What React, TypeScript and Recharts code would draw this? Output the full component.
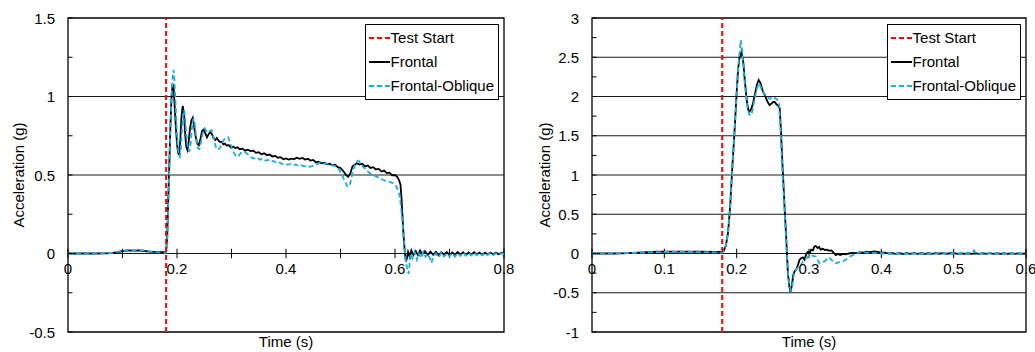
import React from 'react';
import { LineChart, Line, XAxis, YAxis, ReferenceLine, ReferenceArea, Legend } from 'recharts';

// time (s), acceleration (g)
const TEST_START = 0.18;

const leftFrontal: [number, number][] = [
  [0, 0], [0.05, 0], [0.08, 0.002], [0.09, 0.008], [0.1, 0.015], [0.11, 0.02], [0.12, 0.018], [0.13, 0.02],
  [0.14, 0.016], [0.15, 0.012], [0.16, 0.01], [0.17, 0.008], [0.18, 0.008],
  [0.182, 0.1], [0.184, 0.35], [0.186, 0.58], [0.188, 0.82], [0.19, 1.0], [0.192, 1.08], [0.194, 1.05],
  [0.196, 0.92], [0.198, 0.8], [0.2, 0.7], [0.202, 0.64], [0.204, 0.63], [0.206, 0.72], [0.208, 0.86],
  [0.2105, 0.94], [0.213, 0.88], [0.215, 0.76], [0.217, 0.68], [0.219, 0.66], [0.221, 0.7], [0.224, 0.8],
  [0.2265, 0.85], [0.229, 0.865], [0.231, 0.82], [0.234, 0.75], [0.237, 0.7], [0.24, 0.69], [0.243, 0.73],
  [0.246, 0.78], [0.249, 0.79], [0.252, 0.765], [0.255, 0.74], [0.258, 0.76], [0.261, 0.775], [0.264, 0.76],
  [0.267, 0.735], [0.27, 0.722], [0.273, 0.735], [0.276, 0.72], [0.279, 0.71], [0.282, 0.712], [0.285, 0.695],
  [0.288, 0.7], [0.291, 0.688], [0.295, 0.69], [0.299, 0.675], [0.303, 0.682], [0.307, 0.672], [0.311, 0.676],
  [0.315, 0.664], [0.32, 0.668], [0.325, 0.655], [0.33, 0.661], [0.335, 0.652], [0.34, 0.655], [0.345, 0.641],
  [0.35, 0.645], [0.355, 0.632], [0.36, 0.638], [0.365, 0.626], [0.37, 0.63], [0.375, 0.618], [0.38, 0.622],
  [0.385, 0.61], [0.39, 0.614], [0.395, 0.6], [0.4, 0.606], [0.405, 0.598], [0.41, 0.604], [0.415, 0.601],
  [0.42, 0.61], [0.425, 0.603], [0.43, 0.609], [0.435, 0.598], [0.44, 0.603], [0.445, 0.592], [0.45, 0.596],
  [0.455, 0.58], [0.46, 0.584], [0.465, 0.574], [0.47, 0.578], [0.475, 0.568], [0.48, 0.572], [0.485, 0.562],
  [0.49, 0.566], [0.495, 0.55], [0.5, 0.545], [0.505, 0.525], [0.51, 0.5], [0.514, 0.488], [0.518, 0.51],
  [0.522, 0.555], [0.526, 0.565], [0.53, 0.575], [0.535, 0.566], [0.54, 0.572], [0.545, 0.555], [0.55, 0.56],
  [0.555, 0.545], [0.56, 0.55], [0.565, 0.535], [0.57, 0.54], [0.575, 0.522], [0.58, 0.528], [0.585, 0.512],
  [0.59, 0.515], [0.595, 0.498], [0.6, 0.5], [0.604, 0.488], [0.607, 0.47], [0.61, 0.44], [0.612, 0.35],
  [0.614, 0.22], [0.616, 0.1], [0.618, 0.01], [0.62, -0.05], [0.622, -0.03], [0.624, 0.01], [0.627, -0.02],
  [0.63, 0.02], [0.634, -0.01], [0.638, 0.015], [0.642, -0.01], [0.646, 0.02], [0.65, -0.005], [0.655, 0.015],
  [0.66, -0.01], [0.665, 0.012], [0.67, -0.008], [0.675, 0.01], [0.68, -0.012], [0.685, 0.008], [0.69, -0.006],
  [0.695, 0.01], [0.7, -0.01], [0.705, 0.006], [0.71, -0.008], [0.715, 0.01], [0.72, -0.006], [0.725, 0.008],
  [0.73, -0.01], [0.735, 0.006], [0.74, -0.008], [0.745, 0.008], [0.75, -0.006], [0.755, 0.006], [0.76, -0.008],
  [0.765, 0.005], [0.77, -0.006], [0.775, 0.006], [0.78, -0.005], [0.785, 0.006], [0.79, -0.004], [0.795, 0.004],
  [0.8, 0],
];

const leftOblique: [number, number][] = [
  [0, 0], [0.05, 0], [0.08, 0.002], [0.09, 0.01], [0.1, 0.018], [0.11, 0.022], [0.12, 0.02], [0.13, 0.022],
  [0.14, 0.018], [0.15, 0.014], [0.16, 0.01], [0.17, 0.006], [0.18, 0.005],
  [0.182, 0.08], [0.184, 0.3], [0.186, 0.55], [0.188, 0.8], [0.19, 1.0], [0.1925, 1.15], [0.1935, 1.17],
  [0.195, 1.12], [0.197, 0.98], [0.199, 0.82], [0.201, 0.7], [0.203, 0.63], [0.205, 0.617], [0.207, 0.66],
  [0.209, 0.78], [0.211, 0.88], [0.213, 0.914], [0.215, 0.86], [0.217, 0.76], [0.2195, 0.68], [0.2225, 0.648],
  [0.225, 0.7], [0.2275, 0.8], [0.23, 0.86], [0.2325, 0.83], [0.235, 0.74], [0.238, 0.672], [0.241, 0.665],
  [0.244, 0.71], [0.247, 0.765], [0.2505, 0.797], [0.254, 0.78], [0.257, 0.77], [0.2605, 0.78], [0.2636, 0.785],
  [0.267, 0.74], [0.271, 0.68], [0.2755, 0.66], [0.28, 0.68], [0.285, 0.72], [0.29, 0.738], [0.294, 0.74],
  [0.298, 0.7], [0.303, 0.65], [0.308, 0.622], [0.3125, 0.617], [0.317, 0.64], [0.322, 0.65], [0.327, 0.64],
  [0.332, 0.625], [0.337, 0.61], [0.342, 0.605], [0.347, 0.612], [0.352, 0.598], [0.357, 0.605], [0.362, 0.592],
  [0.367, 0.596], [0.372, 0.585], [0.377, 0.59], [0.383, 0.576], [0.388, 0.58], [0.393, 0.57], [0.398, 0.575],
  [0.403, 0.565], [0.408, 0.57], [0.413, 0.562], [0.418, 0.567], [0.423, 0.558], [0.428, 0.562], [0.433, 0.555],
  [0.438, 0.56], [0.444, 0.552], [0.45, 0.56], [0.456, 0.566], [0.462, 0.58], [0.468, 0.572], [0.475, 0.574],
  [0.48, 0.565], [0.487, 0.56], [0.493, 0.553], [0.498, 0.53], [0.503, 0.5], [0.508, 0.46], [0.512, 0.43],
  [0.515, 0.425], [0.518, 0.45], [0.522, 0.51], [0.526, 0.56], [0.53, 0.585], [0.533, 0.591], [0.537, 0.575],
  [0.542, 0.55], [0.548, 0.53], [0.554, 0.51], [0.56, 0.5], [0.566, 0.49], [0.572, 0.48], [0.5786, 0.468],
  [0.585, 0.46], [0.591, 0.455], [0.597, 0.447], [0.602, 0.43], [0.606, 0.4], [0.609, 0.36], [0.612, 0.26],
  [0.615, 0.15], [0.618, 0.03], [0.6205, -0.06], [0.6226, -0.1], [0.625, -0.13], [0.627, -0.06], [0.629, 0],
  [0.632, -0.03], [0.636, 0.01], [0.64, -0.04], [0.644, 0.0], [0.648, -0.03], [0.652, 0.01], [0.656, -0.02],
  [0.66, 0.0], [0.664, -0.03], [0.667, -0.06], [0.67, -0.02], [0.675, 0.0], [0.68, -0.025], [0.685, 0.005],
  [0.69, -0.02], [0.695, 0.0], [0.7, -0.018], [0.705, 0.004], [0.71, -0.02], [0.715, 0.002], [0.72, -0.015],
  [0.725, 0.006], [0.73, -0.014], [0.735, 0.004], [0.74, -0.012], [0.745, 0.006], [0.75, -0.012], [0.755, 0.004],
  [0.76, -0.012], [0.765, 0.004], [0.77, -0.01], [0.775, 0.004], [0.78, -0.01], [0.785, 0.002], [0.79, -0.008],
  [0.795, 0.002], [0.8, -0.004],
];

const rightFrontal: [number, number][] = [
  [0, 0], [0.03, 0], [0.05, 0.005], [0.07, 0.015], [0.09, 0.022], [0.11, 0.025], [0.13, 0.025], [0.15, 0.022],
  [0.17, 0.02], [0.18, 0.02], [0.182, 0.03], [0.185, 0.1], [0.188, 0.26], [0.191, 0.6], [0.194, 1.1],
  [0.197, 1.55], [0.2, 2.05], [0.202, 2.35], [0.204, 2.5], [0.2065, 2.57], [0.209, 2.45], [0.2115, 2.18],
  [0.214, 1.95], [0.216, 1.83], [0.218, 1.81], [0.2205, 1.85], [0.2225, 1.91], [0.225, 2.02], [0.228, 2.15],
  [0.2305, 2.21], [0.233, 2.17], [0.236, 2.07], [0.2386, 2.02], [0.241, 1.97], [0.2435, 1.92], [0.2455, 1.89],
  [0.248, 1.91], [0.2505, 1.93], [0.2525, 1.93], [0.255, 1.9], [0.2575, 1.88], [0.2595, 1.85], [0.261, 1.6],
  [0.2635, 1.1], [0.2662, 0.6], [0.2685, 0.2], [0.2708, -0.25], [0.2728, -0.42], [0.2745, -0.49], [0.2765, -0.4],
  [0.278, -0.28], [0.28, -0.23], [0.2825, -0.2], [0.2846, -0.15], [0.287, -0.08], [0.289, -0.06], [0.2915, -0.05],
  [0.2938, -0.08], [0.296, -0.01], [0.2984, 0.02], [0.301, 0.01], [0.303, 0.05], [0.3055, 0.04], [0.3075, 0.09],
  [0.3094, 0.096], [0.312, 0.07], [0.314, 0.085], [0.316, 0.05], [0.319, 0.06], [0.322, 0.045], [0.325, 0.05],
  [0.328, 0.035], [0.331, 0.04], [0.334, 0.01], [0.337, -0.02], [0.34, -0.005], [0.343, -0.02], [0.347, -0.005],
  [0.351, -0.012], [0.355, 0.0], [0.36, 0.008], [0.365, 0.004], [0.37, 0.015], [0.375, 0.01], [0.38, 0.022],
  [0.385, 0.018], [0.39, 0.028], [0.395, 0.02], [0.4, 0.01], [0.405, 0.012], [0.41, 0.0], [0.415, 0.005],
  [0.42, -0.005], [0.425, 0.004], [0.43, -0.006], [0.435, 0.004], [0.44, -0.005], [0.445, 0.004], [0.45, -0.004],
  [0.455, 0.003], [0.46, -0.005], [0.465, 0.003], [0.47, -0.004], [0.475, 0.004], [0.48, -0.003], [0.485, 0.004],
  [0.49, -0.004], [0.495, 0.003], [0.5, 0.006], [0.505, -0.004], [0.51, 0.003], [0.515, -0.005], [0.52, 0.003],
  [0.525, -0.004], [0.53, 0.003], [0.535, -0.004], [0.54, 0.003], [0.545, -0.005], [0.55, 0.004], [0.555, -0.004],
  [0.56, 0.003], [0.565, -0.004], [0.57, 0.003], [0.575, -0.004], [0.58, 0.003], [0.585, -0.004], [0.59, 0.002],
  [0.595, -0.003], [0.6, 0],
];

const rightOblique: [number, number][] = [
  [0, 0], [0.03, 0], [0.05, 0.004], [0.07, 0.012], [0.09, 0.018], [0.11, 0.02], [0.13, 0.02], [0.15, 0.018],
  [0.17, 0.015], [0.18, 0.012], [0.182, 0.03], [0.185, 0.1], [0.188, 0.26], [0.191, 0.58], [0.194, 1.08],
  [0.197, 1.55], [0.2, 2.05], [0.202, 2.35], [0.204, 2.55], [0.2055, 2.72], [0.2075, 2.6], [0.21, 2.3],
  [0.2125, 2.05], [0.215, 1.85], [0.2175, 1.77], [0.2203, 1.76], [0.2225, 1.85], [0.225, 1.98], [0.228, 2.1],
  [0.231, 2.17], [0.2335, 2.12], [0.236, 2.06], [0.2386, 2.03], [0.241, 2.0], [0.2435, 1.98], [0.246, 1.97],
  [0.2485, 1.99], [0.251, 1.97], [0.2535, 1.98], [0.256, 1.96], [0.2585, 1.93], [0.2605, 1.6], [0.263, 1.1],
  [0.2662, 0.55], [0.2685, 0.15], [0.271, -0.25], [0.2732, -0.42], [0.275, -0.47], [0.277, -0.4], [0.2785, -0.3],
  [0.28, -0.23], [0.2825, -0.2], [0.2846, -0.18], [0.287, -0.15], [0.289, -0.15], [0.2915, -0.1], [0.294, -0.08],
  [0.2965, -0.06], [0.299, -0.03], [0.301, -0.02], [0.303, -0.02], [0.3055, -0.03], [0.3094, -0.04], [0.312, -0.08],
  [0.3145, -0.125], [0.318, -0.11], [0.3214, -0.1], [0.325, -0.07], [0.328, -0.05], [0.332, -0.09], [0.3375, -0.125],
  [0.342, -0.11], [0.347, -0.1], [0.352, -0.07], [0.356, -0.04], [0.3605, -0.02], [0.365, -0.01], [0.37, 0.02],
  [0.375, 0.01], [0.38, 0.015], [0.385, 0.005], [0.39, 0.01], [0.395, 0.0], [0.4, 0.006], [0.405, -0.004],
  [0.41, 0.003], [0.415, -0.006], [0.42, 0.002], [0.425, -0.008], [0.43, 0.004], [0.435, -0.006], [0.44, 0.006],
  [0.445, -0.004], [0.45, 0.008], [0.455, -0.004], [0.46, 0.006], [0.465, -0.006], [0.47, 0.008], [0.475, -0.004],
  [0.48, 0.01], [0.485, -0.004], [0.49, 0.008], [0.495, -0.006], [0.5, 0.006], [0.505, -0.004], [0.51, 0.008],
  [0.515, -0.004], [0.52, 0.006], [0.525, 0.01], [0.528, 0.04], [0.531, 0.005], [0.535, -0.006], [0.54, 0.006],
  [0.545, -0.006], [0.55, 0.008], [0.555, -0.004], [0.56, 0.006], [0.565, -0.006], [0.57, 0.004], [0.575, -0.006],
  [0.58, 0.006], [0.585, -0.004], [0.59, 0.004], [0.595, -0.004], [0.6, 0],
];

const leftXTicks = [0, 0.1, 0.2, 0.3, 0.4, 0.5, 0.6, 0.7, 0.8];
const leftXLabels = [0, 0.2, 0.4, 0.6, 0.8];
const leftYTicks = [-0.5, -0.25, 0, 0.25, 0.5, 0.75, 1, 1.25, 1.5];
const leftYLabels = [-0.5, 0, 0.5, 1, 1.5];

const rightXTicks = [0, 0.1, 0.2, 0.3, 0.4, 0.5, 0.6];
const rightXLabels = [0, 0.1, 0.2, 0.3, 0.4, 0.5, 0.6];
const rightYTicks = [-1, -0.75, -0.5, -0.25, 0, 0.25, 0.5, 0.75, 1, 1.25, 1.5, 1.75, 2, 2.25, 2.5, 2.75, 3];
const rightYLabels = [-1, -0.5, 0, 0.5, 1, 1.5, 2, 2.5, 3];

const RED = '#ff0000';
const BLUE = '#17aeea';
const FONT = 15;
const Y_TICK_GAP = 13;

const legendItems = [
  { name: 'Test Start', color: RED, dash: '5 3' },
  { name: 'Frontal', color: '#000000', dash: undefined },
  { name: 'Frontal-Oblique', color: BLUE, dash: '5 3' },
];

const has = (list: number[], v: number) => list.some((l) => Math.abs(l - v) < 1e-9);
const toRows = (pts: [number, number][]) => pts.map(([t, v]) => ({ t, v }));

const renderLegend = () => (
  <div
    style={{
      background: '#fff',
      border: '1px solid #000',
      padding: '1px 4px 1px 3px',
      fontSize: FONT,
      color: '#000',
      lineHeight: '24px',
    }}
  >
    {legendItems.map((item) => (
      <div key={item.name} style={{ display: 'flex', alignItems: 'center', whiteSpace: 'nowrap' }}>
        <svg width={21} height={10} style={{ marginRight: 1 }}>
          <line x1={0} x2={21} y1={5} y2={5} stroke={item.color} strokeWidth={2} strokeDasharray={item.dash} />
        </svg>
        <span>{item.name}</span>
      </div>
    ))}
  </div>
);

interface PanelProps {
  frontal: [number, number][];
  oblique: [number, number][];
  width: number;
  marginRight: number;
  yAxisWidth: number;
  yLabelX: number;
  xMax: number;
  yMin: number;
  yMax: number;
  xTicks: number[];
  xLabels: number[];
  yTicks: number[];
  yLabels: number[];
  tickHalf: number;
  legendRight: number;
}

const Panel: React.FC<PanelProps> = (p) => {
  const gridY = p.yLabels.filter((v) => v !== p.yMin && v !== p.yMax);

  const yTick = (props: any) => {
    const { x, y, payload } = props;
    const axisX = x + Y_TICK_GAP;
    return (
      <g>
        <line x1={axisX} x2={axisX + 4.5} y1={y} y2={y} stroke="#000" strokeWidth={1} />
        {has(p.yLabels, payload.value) && (
          <text x={x} y={y} textAnchor="end" dominantBaseline="central" fontSize={FONT} fill="#000">
            {String(payload.value)}
          </text>
        )}
      </g>
    );
  };

  const yLabel = (props: any) => {
    const vb = props.viewBox || { y: 18, height: 314 };
    const cy = vb.y + vb.height / 2;
    return (
      <text
        x={p.yLabelX}
        y={cy}
        transform={`rotate(-90 ${p.yLabelX} ${cy})`}
        textAnchor="middle"
        dominantBaseline="central"
        fontSize={FONT}
        fill="#000"
      >
        Acceleration (g)
      </text>
    );
  };

  return (
    <LineChart width={p.width} height={352} margin={{ top: 18, right: p.marginRight, bottom: 0, left: 8 }}>
      <XAxis
        type="number"
        dataKey="t"
        domain={[0, p.xMax]}
        allowDataOverflow
        tick={false}
        tickLine={false}
        axisLine={false}
        height={20}
        label={{ value: 'Time (s)', position: 'center', fill: '#000', fontSize: FONT }}
      />
      <YAxis
        type="number"
        domain={[p.yMin, p.yMax]}
        allowDataOverflow
        ticks={p.yTicks}
        interval={0}
        width={p.yAxisWidth}
        axisLine={false}
        tickLine={false}
        tickSize={0}
        tickMargin={Y_TICK_GAP}
        tick={yTick}
        label={yLabel}
      />
      {gridY.map((v) => (
        <ReferenceLine key={`g${v}`} y={v} stroke="#1a1a1a" strokeWidth={1} />
      ))}
      {p.xTicks.map((t) => (
        <ReferenceLine
          key={`x${t}`}
          segment={[
            { x: t, y: -p.tickHalf },
            { x: t, y: p.tickHalf },
          ]}
          stroke="#000"
          strokeWidth={1}
          label={
            has(p.xLabels, t)
              ? { value: String(t), position: 'bottom', fill: '#000', fontSize: FONT, offset: 5 }
              : undefined
          }
        />
      ))}
      <Line
        data={toRows(p.frontal)}
        dataKey="v"
        name="Frontal"
        type="linear"
        stroke="#000"
        strokeWidth={1.8}
        dot={false}
        isAnimationActive={false}
      />
      <Line
        data={toRows(p.oblique)}
        dataKey="v"
        name="Frontal-Oblique"
        type="linear"
        stroke={BLUE}
        strokeWidth={1.8}
        strokeDasharray="5 3"
        dot={false}
        isAnimationActive={false}
      />
      <ReferenceLine x={TEST_START} stroke={RED} strokeWidth={2} strokeDasharray="5 3" />
      <ReferenceArea x1={0} x2={p.xMax} y1={p.yMin} y2={p.yMax} fill="none" stroke="#000" strokeWidth={1.3} />
      <Legend
        layout="horizontal"
        verticalAlign="middle"
        align="center"
        content={renderLegend}
        wrapperStyle={{ top: 24, right: p.legendRight, left: 'auto', width: 'auto', height: 'auto' }}
      />
    </LineChart>
  );
};

export default function App() {
  return (
    <div
      style={{
        position: 'absolute',
        left: 0,
        top: 0,
        width: 1035,
        height: 352,
        background: '#fff',
        display: 'flex',
        fontFamily: "'Liberation Sans', Arial, sans-serif",
      }}
    >
      <Panel
        frontal={leftFrontal}
        oblique={leftOblique}
        width={520}
        marginRight={16}
        yAxisWidth={60}
        yLabelX={18.5}
        xMax={0.8}
        yMin={-0.5}
        yMax={1.5}
        xTicks={leftXTicks}
        xLabels={leftXLabels}
        yTicks={leftYTicks}
        yLabels={leftYLabels}
        tickHalf={0.03}
        legendRight={21}
      />
      <Panel
        frontal={rightFrontal}
        oblique={rightOblique}
        width={515}
        marginRight={9}
        yAxisWidth={64}
        yLabelX={24}
        xMax={0.6}
        yMin={-1}
        yMax={3}
        xTicks={rightXTicks}
        xLabels={rightXLabels}
        yTicks={rightYTicks}
        yLabels={rightYLabels}
        tickHalf={0.06}
        legendRight={14}
      />
    </div>
  );
}
